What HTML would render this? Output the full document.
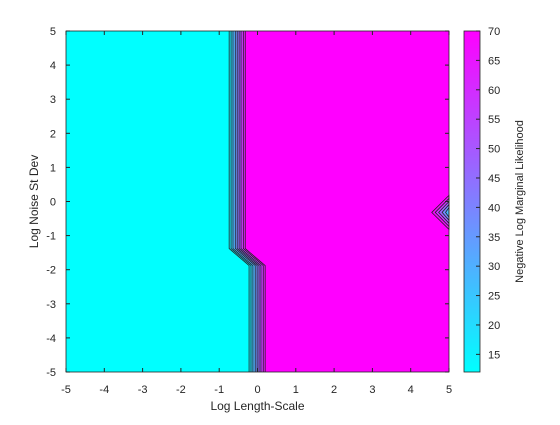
<!DOCTYPE html>
<html><head><meta charset="utf-8"><style>
body{margin:0;background:#fff;}
svg text{font-family:"Liberation Sans",sans-serif;fill:#262626;}
</style></head><body>
<svg width="560" height="420" xmlns="http://www.w3.org/2000/svg">
<g id="plot"></g>
</svg>
<script>
const levels=[12,19,26,33,40,47,54,61,68];
const lineTopX=[-0.74,-0.69,-0.64,-0.58,-0.53,-0.48,-0.43,-0.37,-0.32];
const lineBotX=[-0.22,-0.17,-0.12,-0.06,-0.01,0.04,0.09,0.15,0.20];
const bendY=[-1.38,-1.88];
const xTicks=[-5,-4,-3,-2,-1,0,1,2,3,4,5];
const yTicks=[-5,-4,-3,-2,-1,0,1,2,3,4,5];
const cTicks=[15,20,25,30,35,40,45,50,55,60,65,70];
const cMin=12,cMax=70;
const X0=66,X1=449,Y0=31,Y1=372;
const sx=v=>X0+(v+5)/10*(X1-X0);
const sy=v=>Y1-(v+5)/10*(Y1-Y0);
const cy=v=>Y1-(v-cMin)/(cMax-cMin)*(Y1-Y0);
function col(v){const t=Math.max(0,Math.min(1,(v-cMin)/(cMax-cMin)));return `rgb(${Math.round(255*t)},${Math.round(255*(1-t))},255)`;}
const NS="http://www.w3.org/2000/svg";
const g=document.getElementById('plot');
function mk(t,a,p){const e=document.createElementNS(NS,t);for(const k in a)e.setAttribute(k,a[k]);(p||g).appendChild(e);return e;}
let bg=mk('rect',{x:X0,y:Y0,width:X1-X0,height:Y1-Y0,fill:col(70)});


function linePts(i){return [[sx(lineTopX[i]),sy(5)],[sx(lineTopX[i]),sy(bendY[0])],[sx(lineBotX[i]),sy(bendY[1])],[sx(lineBotX[i]),sy(-5)]];}
for(let i=levels.length-1;i>=0;i--){
 const p=linePts(i);
 const pts=[[X0,Y0],...p,[X0,Y1]].map(q=>q.join(',')).join(' ');
 const c=i==0?col(cMin):col((levels[i-1]+levels[i])/2);
 let poly=mk('polygon',{points:pts,fill:c,stroke:'none'});
 
 
}
for(let i=0;i<levels.length;i++){
 let pl=mk('polyline',{points:linePts(i).map(q=>q.join(',')).join(' '),fill:'none',stroke:'#222',"stroke-width":0.8});
 
 
}
const triApex=[4.55,-0.32],triHalf=0.5;
for(let k=0;k<5;k++){
 const ax=triApex[0]+k*0.09,h=triHalf*(1-k*0.18);
 const pts=[[sx(5),sy(triApex[1]+h)],[sx(ax),sy(triApex[1])],[sx(5),sy(triApex[1]-h)]].map(q=>q.join(',')).join(' ');
 let t=mk('polygon',{points:pts,fill:col(68-k*10),stroke:'#222',"stroke-width":0.8});
 
 
}
let fr=mk('rect',{x:X0,y:Y0,width:X1-X0,height:Y1-Y0,fill:'none',stroke:'#262626',"stroke-width":0.8});


xTicks.forEach(v=>{const x=sx(v);
 mk('line',{x1:x,x2:x,y1:Y1,y2:Y1-4,stroke:'#262626'});mk('line',{x1:x,x2:x,y1:Y0,y2:Y0+4,stroke:'#262626'});
 let t=mk('text',{x:x,y:Y1+21,"font-size":11,"text-anchor":"middle"});t.textContent=v;
 });
yTicks.forEach(v=>{const y=sy(v);
 mk('line',{x1:X0,x2:X0+4,y1:y,y2:y,stroke:'#262626'});mk('line',{x1:X1,x2:X1-4,y1:y,y2:y,stroke:'#262626'});
 let t=mk('text',{x:X0-10,y:y+4,"font-size":11,"text-anchor":"end"});t.textContent=v;
 });
const defs=mk('defs',{});const lg=mk('linearGradient',{id:'cg',x1:0,y1:1,x2:0,y2:0},defs);
mk('stop',{offset:0,"stop-color":col(cMin)},lg);mk('stop',{offset:1,"stop-color":col(cMax)},lg);
let cb=mk('rect',{x:464,y:Y0,width:16,height:Y1-Y0,fill:'url(#cg)',stroke:'#262626',"stroke-width":0.8});

cTicks.forEach(v=>{const y=cy(v);
 mk('line',{x1:476,x2:480,y1:y,y2:y,stroke:'#262626'});
 let t=mk('text',{x:488,y:y+4,"font-size":11});t.textContent=v;
 });
let xl=mk('text',{x:(X0+X1)/2,y:410,"font-size":12,"text-anchor":"middle"});xl.textContent='Log Length-Scale';

let yl=mk('text',{x:0,y:0,"font-size":12,"text-anchor":"middle",transform:`translate(38,${(Y0+Y1)/2}) rotate(-90)`});yl.textContent='Log Noise St Dev';

let cl=mk('text',{x:0,y:0,"font-size":11,"text-anchor":"middle",transform:`translate(523,${(Y0+Y1)/2}) rotate(-90)`});cl.textContent='Negative Log Marginal Likelihood';

</script>
</body></html>
